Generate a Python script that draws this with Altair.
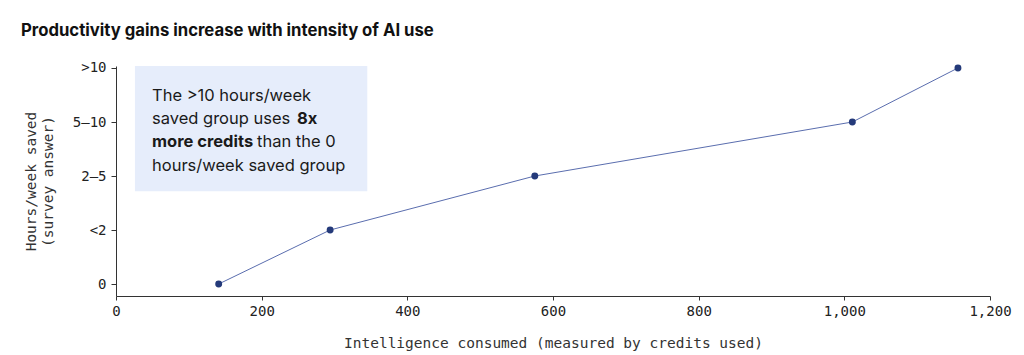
import altair as alt
import pandas as pd

# Data
credits = [141, 294, 575, 1011, 1156]
groups = [0, 1, 2, 3, 4]
group_labels = ["0", "<2", "2–5", "5–10", ">10"]

df = pd.DataFrame({"credits": credits, "group": groups, "label": group_labels})

label_expr = "{0:'0',1:'<2',2:'2–5',3:'5–10',4:'>10'}[datum.value]"

MONO = "DejaVu Sans Mono"
SANS = "Inter"

xscale = alt.Scale(domain=[0, 1200], nice=False, zero=False)
yscale = alt.Scale(domain=[-0.222, 4.037], nice=False, zero=False)

x_enc = alt.X(
    "credits:Q",
    scale=xscale,
    axis=alt.Axis(
        values=[0, 200, 400, 600, 800, 1000, 1200],
        format=",d",
        title="Intelligence consumed (measured by credits used)",
        titleFont=MONO, titleFontSize=14.5, titleFontWeight="normal", titleColor="#333333",
        titlePadding=18,
        labelFont=MONO, labelFontSize=14, labelColor="#222222",
        labelFlush=False, labelOverlap=False,
        grid=False, domainColor="#333333", tickColor="#333333", tickSize=4,
        labelPadding=4,
    ),
)
y_enc = alt.Y(
    "group:Q",
    scale=yscale,
    axis=alt.Axis(
        values=[0, 1, 2, 3, 4],
        labelExpr=label_expr,
        title=["Hours/week saved", "(survey answer)"],
        titleFont=MONO, titleFontSize=14.5, titleFontWeight="normal", titleColor="#333333",
        titlePadding=17,
        labelFont=MONO, labelFontSize=14, labelColor="#222222",
        labelFlush=False,
        grid=False, domainColor="#333333", tickColor="#333333", tickSize=5,
        labelPadding=5,
    ),
)

# annotation box in data coordinates
box_df = pd.DataFrame({"x0": [26], "x1": [345], "y0": [1.72], "y1": [4.037]})
box = alt.Chart(box_df).mark_rect(color="#E6EDFB").encode(
    x=alt.X("x0:Q", scale=xscale), x2="x1:Q",
    y=alt.Y("y0:Q", scale=yscale), y2="y1:Q",
)

line = alt.Chart(df).mark_line(color="#5A6DAE", strokeWidth=1).encode(x=x_enc, y=y_enc)
pts = alt.Chart(df).mark_circle(color="#243A7A", size=48, opacity=1).encode(
    x="credits:Q", y="group:Q"
)

def txt(s, x, y, bold=False):
    return alt.Chart(pd.DataFrame({"t": [s]})).mark_text(
        align="left", baseline="middle", font=SANS, fontSize=16.5,
        fontWeight="bold" if bold else "normal", color="#1a1a1a",
    ).encode(text="t:N", x=alt.value(x), y=alt.value(y))

texts = [
    txt("The >10 hours/week", 36, 30),
    txt("saved group uses", 36, 53),
    txt("8x", 181, 53, True),
    txt("more credits", 36, 76, True),
    txt("than the 0", 141, 76),
    txt("hours/week saved group", 36, 100),
]

chart = alt.layer(box, line, pts, *texts).properties(
    width=874,
    height=230,
    autosize=alt.AutoSizeParams(type="none"),
    padding={"left": 116, "top": 66, "right": 34, "bottom": 59},
    title=alt.TitleParams(
        "Productivity gains increase with intensity of AI use",
        anchor="start", frame="group", dx=-95, offset=21,
        font=SANS, fontSize=16.7, fontWeight="bold", color="#111111",
    ),
).configure_view(stroke=None)

chart.save("out.html", embed_options={"renderer": "svg", "actions": False})
